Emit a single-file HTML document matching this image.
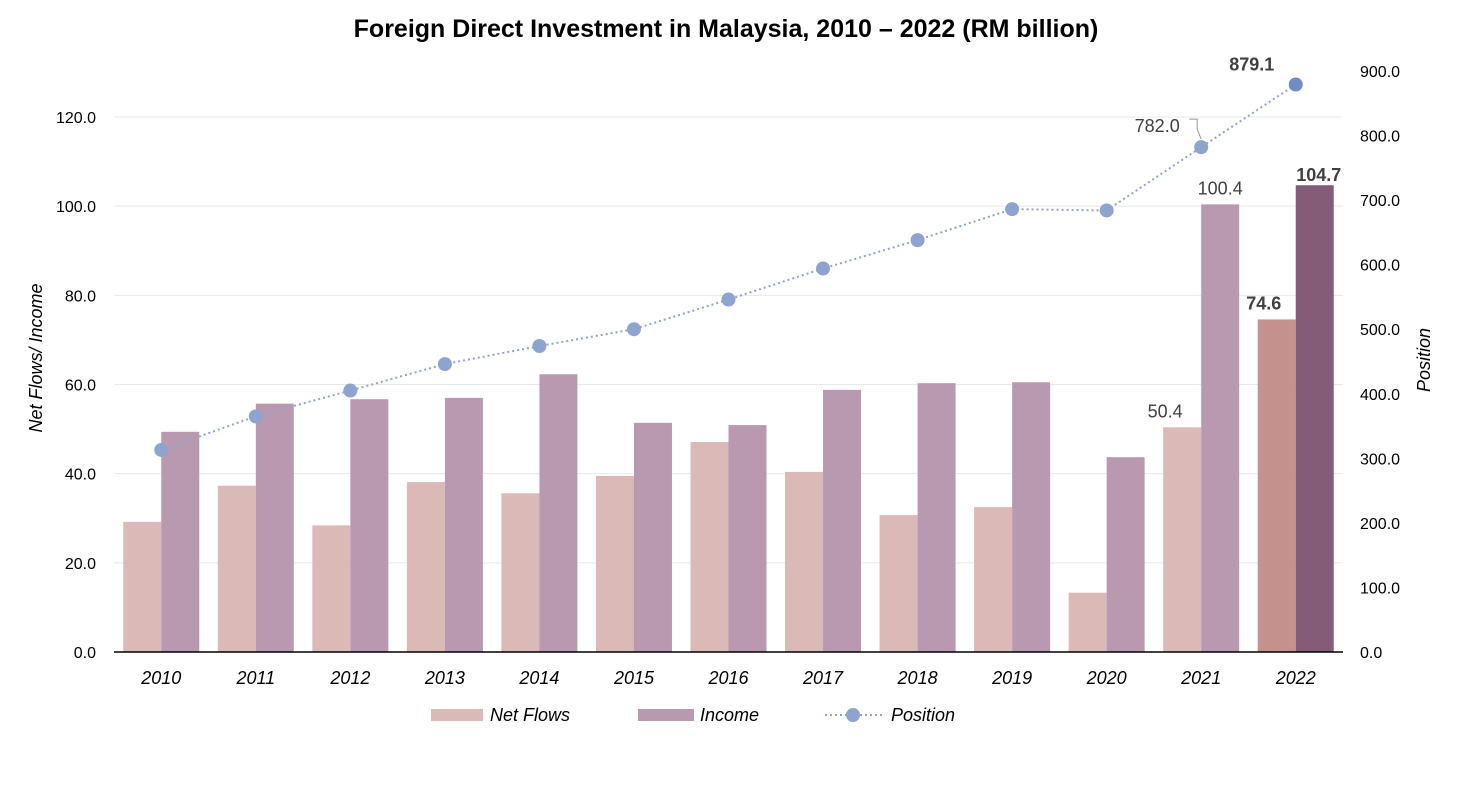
<!DOCTYPE html>
<html><head><meta charset="utf-8"><style>
body{margin:0;background:#fff;font-family:"Liberation Sans",Arial,sans-serif;}
svg text{font-family:"Liberation Sans",Arial,sans-serif;}
</style></head><body>
<svg id="c" width="1460" height="788" xmlns="http://www.w3.org/2000/svg">
<text x="726" y="37" text-anchor="middle" font-size="25" font-weight="bold" fill="#000">Foreign Direct Investment in Malaysia, 2010 – 2022 (RM billion)</text>
<text transform="translate(42,358) rotate(-90)" text-anchor="middle" font-size="18" font-style="italic" fill="#000">Net Flows/ Income</text>
<text transform="translate(1430,360) rotate(-90)" text-anchor="middle" font-size="18" font-style="italic" fill="#000">Position</text>
<g id="grid"></g><g id="bars"></g><g id="line"></g><g id="labels"></g>
<g>
<rect x="431" y="709" width="52" height="12" fill="#dab9b6"/>
<text x="490" y="721" font-size="18" font-style="italic">Net Flows</text>
<rect x="638" y="709" width="56" height="12" fill="#b899b0"/>
<text x="700" y="721" font-size="18" font-style="italic">Income</text>
<line x1="825" y1="715" x2="883" y2="715" stroke="#8fa3cf" stroke-width="2" stroke-dasharray="2,3"/>
<circle cx="853" cy="715" r="7" fill="#8fa3cf"/>
<text x="891" y="721" font-size="18" font-style="italic">Position</text>
</g>
</svg>
<script>
const years=["2010","2011","2012","2013","2014","2015","2016","2017","2018","2019","2020","2021","2022"];
const netFlows=[29.2,37.3,28.4,38.1,35.6,39.5,47.1,40.4,30.7,32.5,13.3,50.4,74.6];
const income=[49.4,55.7,56.7,57.0,62.3,51.4,50.9,58.8,60.3,60.5,43.7,100.4,104.7];
const position=[313,365,405,446,474,500,546,594,638,686,684,782.0,879.1];
const leftTicks=[0,20,40,60,80,100,120];
const rightTicks=[0,100,200,300,400,500,600,700,800,900];
const NS="http://www.w3.org/2000/svg";
const X0=114,X1=1343,Y0=652,bw=(X1-X0)/years.length;
const yL=v=>Y0-v*(535/120);
const yR=v=>Y0-v*(581/900);
const xc=i=>X0+bw*(i+0.5);
function mk(t,a,p){const e=document.createElementNS(NS,t);for(const k in a)e.setAttribute(k,a[k]);p.appendChild(e);return e;}
const grid=document.getElementById('grid'),bars=document.getElementById('bars'),line=document.getElementById('line'),labels=document.getElementById('labels');
leftTicks.forEach(v=>{
 if(v>0){const g=mk('line',{x1:X0,x2:X1,y1:yL(v),y2:yL(v),stroke:'#e8e8e8','stroke-width':1},grid);
 
 }
 const t=mk('text',{x:96,y:yL(v)+6,'text-anchor':'end','font-size':16},grid);t.textContent=v.toFixed(1);
 
 
});
rightTicks.forEach(v=>{
 const t=mk('text',{x:1360,y:yR(v)+6,'font-size':16},grid);t.textContent=v.toFixed(1);
 
 
});
years.forEach((y,i)=>{
 const last=i===years.length-1;
 const w=38,c=xc(i);
 const a=mk('rect',{x:c-w,y:yL(netFlows[i]),width:w,height:Y0-yL(netFlows[i]),fill:last?'#c4918c':'#dab9b6'},bars);
 
 
 const b=mk('rect',{x:c,y:yL(income[i]),width:w,height:Y0-yL(income[i]),fill:last?'#845c78':'#b899b0'},bars);
 
 
 const t=mk('text',{x:c,y:684,'text-anchor':'middle','font-size':18,'font-style':'italic'},labels);t.textContent=y;
 
 
});
const ax=mk('line',{x1:X0,x2:X1,y1:Y0,y2:Y0,stroke:'#000','stroke-width':1.5},bars);


const pl=mk('polyline',{points:position.map((v,i)=>xc(i)+','+yR(v)).join(' '),fill:'none',stroke:'#8fa3cf','stroke-width':2,'stroke-dasharray':'2,3'},line);


position.forEach((v,i)=>{
 const p=mk('circle',{cx:xc(i),cy:yR(v),r:7,fill:i===years.length-1?'#6f8cc6':'#8fa3cf'},line);
 
 
});
function lab(txt,x,y,bold,name){const t=mk('text',{x:x,y:y,'text-anchor':'middle','font-size':18,'font-weight':bold?'bold':'normal',fill:'#404040'},labels);t.textContent=txt;
 
 }
const n=years.length;
lab(netFlows[n-2].toFixed(1),xc(n-2)-36,yL(netFlows[n-2])-10,false,'label-net-flows-2021');
lab(income[n-2].toFixed(1),xc(n-2)+19,yL(income[n-2])-10,false,'label-income-2021');
lab(netFlows[n-1].toFixed(1),xc(n-1)-32,yL(netFlows[n-1])-10,true,'label-net-flows-2022');
lab(income[n-1].toFixed(1),xc(n-1)+23,yL(income[n-1])-4,true,'label-income-2022');
lab(position[n-2].toFixed(1),xc(n-2)-44,yR(position[n-2])-15,false,'label-position-2021');
lab(position[n-1].toFixed(1),xc(n-1)-44,yR(position[n-1])-14,true,'label-position-2022');
const ll=mk('polyline',{points:(xc(n-2)-12)+','+(yR(position[n-2])-28)+' '+(xc(n-2)-4)+','+(yR(position[n-2])-28)+' '+(xc(n-2)-4)+','+(yR(position[n-2])-18)+' '+(xc(n-2))+','+(yR(position[n-2])-8),fill:'none',stroke:'#999','stroke-width':1},labels);


</script>
</body></html>
